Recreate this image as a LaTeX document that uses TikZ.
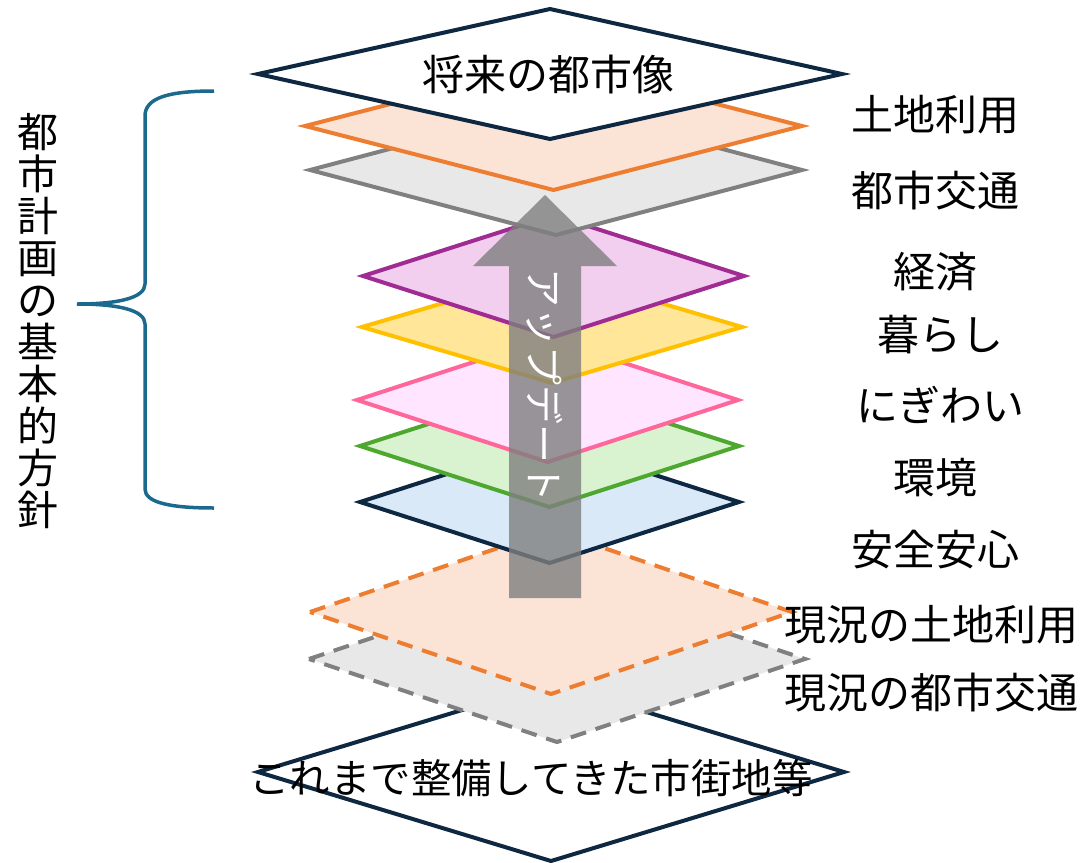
\documentclass[tikz,border=0pt]{standalone}
\usepackage{fontspec}
\setmainfont{Noto Sans CJK JP}
\definecolor{navy}{HTML}{0E2841}
\definecolor{orgS}{HTML}{ED7D31}\definecolor{orgF}{HTML}{FBE3D6}
\definecolor{gryS}{HTML}{808080}\definecolor{gryF}{HTML}{E8E8E8}
\definecolor{purS}{HTML}{A02B93}\definecolor{purF}{HTML}{F2CEEF}
\definecolor{yelS}{HTML}{FFC000}\definecolor{yelF}{HTML}{FFE699}
\definecolor{pnkS}{HTML}{FF6699}\definecolor{pnkF}{HTML}{FFE5FF}
\definecolor{grnS}{HTML}{4EA72E}\definecolor{grnF}{HTML}{D9F2D0}
\definecolor{bluF}{HTML}{DAE9F8}
\definecolor{arrC}{HTML}{7F7F7F}
\definecolor{brC}{HTML}{1B6A8E}
\newcommand{\layerat}[5]{% style, cx, cy, hw, hh
  \path[#1] ({#2-#4},#3) -- (#2,{#3-#5}) -- ({#2+#4},#3) -- (#2,{#3+#5}) -- cycle;}
\begin{document}
\begin{tikzpicture}[x=0.5pt,y=-0.5pt,
  lay/.style={line width=2pt,line join=miter},
  dlay/.style={line width=2pt,dash pattern=on 8pt off 5pt},
  lbl/.style={font=\fontsize{21pt}{24pt}\selectfont,inner sep=0pt,text=black}]
\useasboundingbox (0,0) rectangle (1081,862);
% bottom base
\layerat{lay,draw=navy,fill=white}{551}{772}{293}{89}
\layerat{dlay,draw=gryS,fill=gryF}{557}{659}{248}{83}
\layerat{dlay,draw=orgS,fill=orgF}{551}{612}{241}{82}
\layerat{lay,draw=navy,fill=bluF}{549.5}{502}{189.5}{61}
\layerat{lay,draw=grnS,fill=grnF}{549.5}{446}{189.5}{61}
\layerat{lay,draw=pnkS,fill=pnkF}{547.5}{400}{190.5}{62}
\layerat{lay,draw=yelS,fill=yelF}{552}{327}{190}{56}
\layerat{lay,draw=purS,fill=purF}{553.5}{276}{190.5}{61}
\layerat{lay,draw=gryS,fill=gryF}{556}{170}{246}{65}
\layerat{lay,draw=orgS,fill=orgF}{553.5}{126}{248.5}{64}
\layerat{lay,draw=navy,fill=white}{550}{74}{292}{65}
% arrow
\fill[arrC,fill opacity=0.8] (509,598) -- (509,266) -- (473,266) -- (545,195) -- (617,266) -- (581,266) -- (581,598) -- cycle;
\node[lbl,text=white,rotate=-90,font=\fontsize{19.5pt}{22pt}\selectfont] (upd) at (545,385) {アップデート};
% texts
\node[lbl] (future) at (548,74) {将来の都市像};
\node[lbl,font=\fontsize{20.2pt}{24pt}\selectfont] (base) at (531,778) {これまで整備してきた市街地等};
\node[lbl] (l1) at (935,115) {土地利用};
\node[lbl] (l2) at (935,191) {都市交通};
\node[lbl] (l3) at (935,272) {経済};
\node[lbl] (l4) at (940,335) {暮らし};
\node[lbl] (l5) at (940,405) {にぎわい};
\node[lbl] (l6) at (935,478) {環境};
\node[lbl] (l7) at (935,550) {安全安心};
\node[lbl] (l8) at (931,625) {現況の土地利用};
\node[lbl] (l9) at (931,693) {現況の都市交通};
\node[lbl,align=center,font=\fontsize{20.5pt}{21pt}\selectfont] (policy) at (38,321) {都\\市\\計\\画\\の\\基\\本\\的\\方\\針};
% brace
\draw[brC,line width=1.75pt] (214,91) .. controls (168,91) and (145,98) .. (145,116) -- (145,284)
  .. controls (145,298) and (118,304) .. (77,304)
  .. controls (118,304) and (145,310) .. (145,324) -- (145,489)
  .. controls (145,502) and (168,508) .. (214,508);
\end{tikzpicture}
\end{document}
